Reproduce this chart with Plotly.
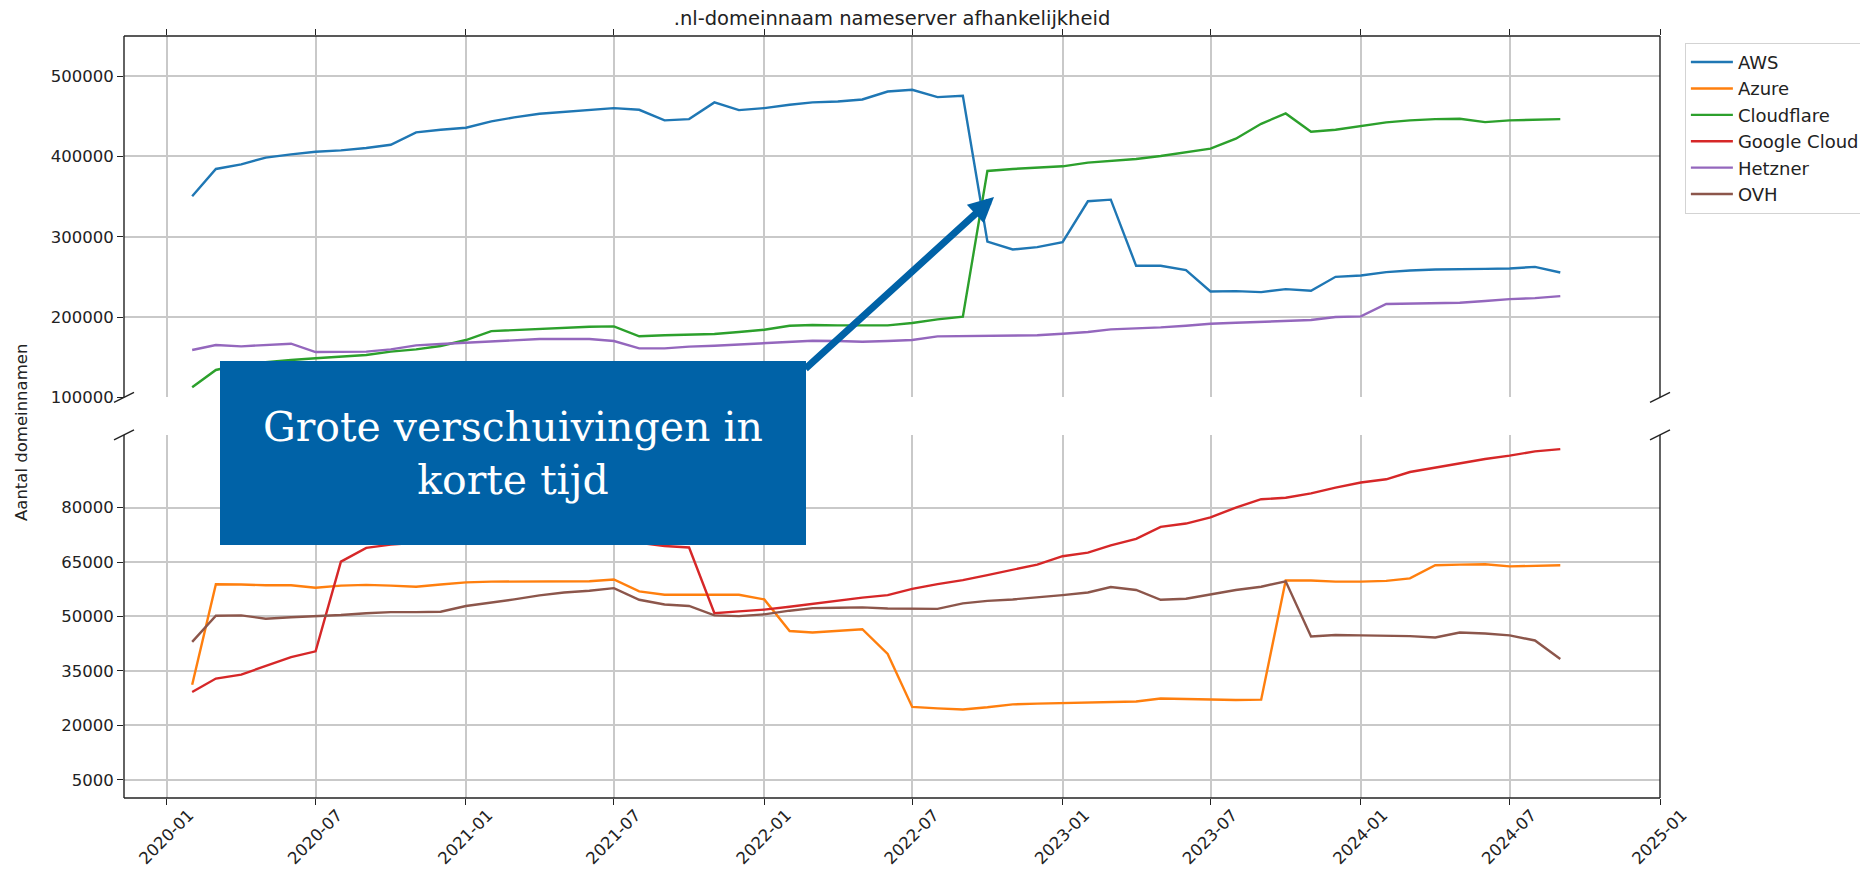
import plotly.graph_objects as go

months = [
    "2020-02", "2020-03", "2020-04", "2020-05", "2020-06", "2020-07", "2020-08", "2020-09", "2020-10", "2020-11", "2020-12",
    "2021-01", "2021-02", "2021-03", "2021-04", "2021-05", "2021-06", "2021-07", "2021-08", "2021-09", "2021-10", "2021-11", "2021-12",
    "2022-01", "2022-02", "2022-03", "2022-04", "2022-05", "2022-06", "2022-07", "2022-08", "2022-09", "2022-10", "2022-11", "2022-12",
    "2023-01", "2023-02", "2023-03", "2023-04", "2023-05", "2023-06", "2023-07", "2023-08", "2023-09", "2023-10", "2023-11", "2023-12",
    "2024-01", "2024-02", "2024-03", "2024-04", "2024-05", "2024-06", "2024-07", "2024-08", "2024-09",
]

aws = [350400, 384400, 390200, 398500, 402600, 405900, 407600, 410500, 414600, 430000,
       433300, 435800, 443600, 448600, 453200, 455200, 458100, 460200, 458100, 444900,
       446500, 467300, 457700, 460200, 464400, 467300, 468500, 471000, 480900, 483000,
       473900, 475500, 294000, 284100, 287000, 293200, 344200, 346200, 263800, 263800,
       258400, 231900, 232300, 231000, 234800, 232700, 250100, 251800, 255900, 258000,
       259200, 260000, 260000, 260500, 262500, 255500]
azure = [31200, 58900, 58800, 58600, 58600, 57900, 58500, 58700, 58500, 58200,
         58800, 59400, 59600, 59600, 59600, 59700, 59700, 60200, 56900, 56000,
         56000, 56000, 56000, 54700, 46000, 45600, 46000, 46500, 39700, 25100,
         24700, 24400, 25000, 25800, 26000, 26200, 26300, 26400, 26600, 27400,
         27300, 27000, 27000, 27100, 59900, 59900, 59600, 59600, 59800, 60500,
         64100, 64300, 64400, 63800, 64000, 64100]
cloudflare = [112500, 134100, 141000, 144000, 146500, 148600, 150500, 152700, 156900, 159800,
              163900, 171400, 182500, 184000, 185500, 186700, 188000, 188400, 176000, 177300,
              178100, 178800, 181300, 184200, 189200, 190000, 189600, 189200, 189600, 192500,
              197100, 200400, 381900, 384400, 386400, 387700, 392300, 394300, 396800, 400500,
              405100, 409700, 422100, 440700, 453600, 430800, 433300, 437400, 442400, 444900,
              446500, 447000, 442800, 444900, 446100, 446500]
google_cloud = [29200, 32900, 34000, 36300, 38800, 40400, 65100, 68900, 69800, 70300,
                70700, 71200, 71500, 71800, 72000, 72100, 71900, 71400, 70300, 69400,
                69000, 50900, 51400, 51900, 52700, 53500, 54300, 55200, 55900, 57600,
                58900, 60000, 61400, 62800, 64300, 66600, 67600, 69600, 71400, 74700,
                75600, 77300, 80000, 82300, 82700, 83900, 85500, 86900, 87800, 89800,
                91000, 92100, 93400, 94300, 95500, 96100]
hetzner = [158900, 165100, 163500, 165100, 166800, 156400, 156400, 156900, 159800, 164700,
           166400, 168000, 170100, 171400, 172600, 172600, 172600, 170100, 161000, 161000,
           163100, 164300, 166000, 167200, 169300, 170500, 170100, 169300, 170100, 171400,
           175900, 176300, 175900, 176300, 177300, 179200, 181300, 184600, 185500, 187100,
           189200, 191700, 192900, 194200, 195800, 196300, 200000, 200800, 216200, 217000,
           217800, 217800, 219900, 222300, 223600, 226100]
ovh = [43000, 50200, 50300, 49400, 49800, 50000, 50400, 50900, 51200, 51200,
       51300, 52900, 53800, 54700, 55800, 56600, 57100, 57800, 54600, 53300,
       52900, 50300, 50100, 50600, 51600, 52300, 52400, 52500, 52200, 52100,
       52100, 53600, 54300, 54700, 55200, 55900, 56600, 58100, 57300, 54600,
       54900, 56100, 57300, 58200, 59700, 44500, 44900, 44800, 44700, 44600,
       44200, 45600, 45300, 44800, 43400, 38300]

series_names = ["AWS", "Azure", "Cloudflare", "Google Cloud", "Hetzner", "OVH"]
series_values = [aws, azure, cloudflare, google_cloud, hetzner, ovh]
series_colors = ["#1f77b4", "#ff7f0e", "#2ca02c", "#d62728", "#9467bd", "#8c564b"]

x_tick_vals = ["2020-01-01", "2020-07-01", "2021-01-01", "2021-07-01", "2022-01-01", "2022-07-01",
               "2023-01-01", "2023-07-01", "2024-01-01", "2024-07-01", "2025-01-01"]
x_tick_text = ["2020-01", "2020-07", "2021-01", "2021-07", "2022-01", "2022-07",
               "2023-01", "2023-07", "2024-01", "2024-07", "2025-01"]
top_tick_vals = [100000, 200000, 300000, 400000, 500000]
bottom_tick_vals = [5000, 20000, 35000, 50000, 65000, 80000]

title_text = ".nl-domeinnaam nameserver afhankelijkheid"
ylabel_text = "Aantal domeinnamen"
callout_text = "Grote verschuivingen in<br>korte tijd"

FONT = "DejaVu Sans"
GRID = "#c9c9c9"
SPINE = "#222222"
BLUE_BOX = "#0062a7"

x_dates = [m + "-01" for m in months]

fig = go.Figure()
for name, vals, col in zip(series_names, series_values, series_colors):
    fig.add_trace(go.Scatter(x=x_dates, y=vals, mode="lines", name=name, legendgroup=name,
                             line=dict(color=col, width=2.4), xaxis="x2", yaxis="y2"))
for name, vals, col in zip(series_names, series_values, series_colors):
    fig.add_trace(go.Scatter(x=x_dates, y=vals, mode="lines", name=name, legendgroup=name,
                             showlegend=False, line=dict(color=col, width=2.4),
                             xaxis="x", yaxis="y"))

TOP_DOM = [0.5258, 1.0]
BOT_DOM = [0.0, 0.4764]
xr = ["2019-11-09 14:00", "2025-01-01"]

common_x = dict(type="date", range=xr, tickmode="array", tickvals=x_tick_vals,
                showgrid=True, gridcolor=GRID, gridwidth=1.5, ticks="outside",
                ticklen=6, tickwidth=1.3, tickcolor=SPINE, showline=False, zeroline=False)

fig.update_layout(
    width=1860, height=874,
    margin=dict(l=124, r=200, t=36, b=76, autoexpand=False),
    paper_bgcolor="white", plot_bgcolor="white",
    font=dict(family=FONT, size=16.5, color="#222222"),
    title=dict(text=title_text, x=0.5, xref="paper", xanchor="center",
               y=1 - 18 / 874, yref="container", yanchor="middle",
               font=dict(family=FONT, size=19.5, color="#222222")),
    xaxis=dict(**common_x, anchor="y", domain=[0, 1], ticktext=x_tick_text,
               tickangle=-45, ticklabelshift=22, ticklabelstandoff=-6,
               tickfont=dict(family=FONT, size=16.5, color="#222222")),
    xaxis2=dict(**common_x, anchor="y2", domain=[0, 1], matches="x", side="top",
                showticklabels=False),
    yaxis=dict(domain=BOT_DOM, anchor="x", range=[0, 100000], tickmode="array",
               tickvals=bottom_tick_vals, ticktext=[str(v) for v in bottom_tick_vals],
               showgrid=True, gridcolor=GRID, gridwidth=1.5, ticks="outside",
               ticklen=6, tickwidth=1.3, tickcolor=SPINE, showline=False, zeroline=False),
    yaxis2=dict(domain=TOP_DOM, anchor="x2", range=[100000, 550000], tickmode="array",
                tickvals=top_tick_vals, ticktext=[str(v) for v in top_tick_vals],
                showgrid=True, gridcolor=GRID, gridwidth=1.5, ticks="outside",
                ticklen=6, tickwidth=1.3, tickcolor=SPINE, showline=False, zeroline=False),
    legend=dict(x=1.0162, y=0.991, xanchor="left", yanchor="top",
                bgcolor="white", bordercolor="#d3d3d3", borderwidth=1,
                font=dict(family=FONT, size=18, color="#222222"),
                tracegroupgap=0, itemwidth=42),
    showlegend=True,
)

shapes = []
def seg(x0, y0, x1, y1, w=1.4, color=SPINE):
    shapes.append(dict(type="line", xref="paper", yref="paper", x0=x0, y0=y0, x1=x1, y1=y1,
                       line=dict(color=color, width=w), layer="above"))

# spines
seg(0, TOP_DOM[0], 0, 1); seg(1, TOP_DOM[0], 1, 1); seg(0, 1, 1, 1)
seg(0, 0, 0, BOT_DOM[1]); seg(1, 0, 1, BOT_DOM[1]); seg(0, 0, 1, 0)
# break marks
dx, dy = 10 / 1536, 5 / 762
for yc in (TOP_DOM[0], BOT_DOM[1]):
    for xc in (0, 1):
        seg(xc - dx, yc - dy, xc + dx, yc + dy)

# callout box
shapes.append(dict(type="rect", xref="paper", yref="paper",
                   x0=(220 - 124) / 1536, x1=(806 - 124) / 1536,
                   y0=(798 - 545) / 762, y1=(798 - 361) / 762,
                   fillcolor=BLUE_BOX, line=dict(width=0), layer="above"))
fig.update_layout(shapes=shapes)

fig.add_annotation(xref="paper", yref="paper", x=(994 - 124) / 1536, y=(798 - 197) / 762,
                   text="", showarrow=True, ax=-190, ay=173, axref="pixel", ayref="pixel",
                   arrowhead=2, arrowsize=0.72, arrowwidth=7, arrowcolor=BLUE_BOX)
fig.add_annotation(xref="paper", yref="paper", x=(513 - 124) / 1536, y=(798 - 453) / 762,
                   text=callout_text, showarrow=False, xanchor="center", yanchor="middle",
                   font=dict(family="DejaVu Serif", size=41, color="white"), align="center")
fig.add_annotation(xref="paper", yref="paper", x=(21 - 124) / 1536, y=(798 - 433) / 762,
                   text=ylabel_text, showarrow=False, textangle=-90, xanchor="center",
                   yanchor="middle", font=dict(family=FONT, size=16.5, color="#222222"))

fig.write_html("out.html", config={"displayModeBar": False},
               post_script="document.body.style.margin='0';")
